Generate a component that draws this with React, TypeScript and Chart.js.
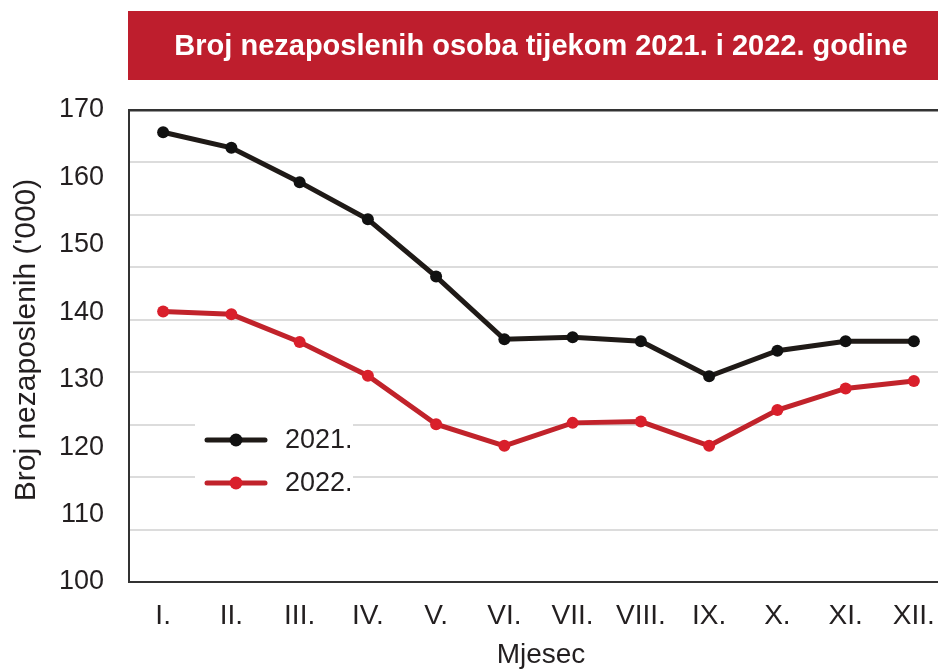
import React, { useEffect, useRef } from "react";
import { Chart, registerables } from "chart.js";

Chart.register(...registerables);

const months = ["I.", "II.", "III.", "IV.", "V.", "VI.", "VII.", "VIII.", "IX.", "X.", "XI.", "XII."];
const values2021 = [166.7, 164.4, 159.3, 153.8, 145.3, 136.0, 136.3, 135.7, 130.5, 134.3, 135.7, 135.7];
const values2022 = [140.1, 139.7, 135.6, 130.6, 123.4, 120.2, 123.6, 123.8, 120.2, 125.5, 128.7, 129.8];
const seriesLabels = ["2021.", "2022."];
const yMin = 100;
const yMax = 170;
const yStep = 10;
const gridDivisions = 9;
const chartTitle = "Broj nezaposlenih osoba tijekom 2021. i 2022. godine";
const yTitle = "Broj nezaposlenih ('000)";
const xTitle = "Mjesec";

const FONT = "'Liberation Sans', Arial, sans-serif";
const TEXT = "#231f20";
const FRAME = "#333333";
const BANNER = "#be1e2d";

const decorPlugin = {
  id: "decor",
  beforeDraw(chart: any) {
    const { ctx, width } = chart;
    ctx.save();
    ctx.fillStyle = "#ffffff";
    ctx.fillRect(0, 0, width, chart.height);
    // title banner
    ctx.fillStyle = BANNER;
    ctx.fillRect(128, 11, width - 128, 69);
    ctx.fillStyle = "#ffffff";
    ctx.font = `bold 29px ${FONT}`;
    ctx.textAlign = "center";
    ctx.textBaseline = "middle";
    ctx.fillText(chartTitle, 541, 47);
    ctx.restore();
  },
  afterDraw(chart: any) {
    const { ctx } = chart;
    ctx.save();
    ctx.fillStyle = TEXT;
    ctx.textAlign = "center";
    ctx.textBaseline = "middle";
    // y title
    ctx.save();
    ctx.font = `30px ${FONT}`;
    ctx.translate(27, 340);
    ctx.rotate(-Math.PI / 2);
    ctx.fillText(yTitle, 0, 0);
    ctx.restore();
    // x title
    ctx.font = `28px ${FONT}`;
    ctx.fillText(xTitle, 541, 655);
    // legend
    ctx.fillStyle = "#ffffff";
    ctx.fillRect(195, 405, 158, 92);
    chart.data.datasets.forEach((ds: any, i: number) => {
      const y = 440 + i * 43;
      ctx.strokeStyle = ds.borderColor;
      ctx.lineWidth = 5;
      ctx.lineCap = "round";
      ctx.beginPath();
      ctx.moveTo(207, y);
      ctx.lineTo(265, y);
      ctx.stroke();
      ctx.fillStyle = ds.pointBackgroundColor;
      ctx.beginPath();
      ctx.arc(236, y, 6.5, 0, Math.PI * 2);
      ctx.fill();
      ctx.fillStyle = TEXT;
      ctx.textAlign = "left";
      ctx.font = `27px ${FONT}`;
      ctx.fillText(ds.label, 285, y + 1);
    });
    ctx.restore();
  },
};

export default function App() {
  const ref = useRef<HTMLCanvasElement | null>(null);

  useEffect(() => {
    if (!ref.current) return;
    const chart = new Chart(ref.current, {
      type: "line",
      data: {
        labels: months,
        datasets: [
          {
            label: seriesLabels[0],
            data: values2021,
            borderColor: "#1f1a17",
            backgroundColor: "#111111",
            pointBackgroundColor: "#111111",
            pointBorderColor: "#111111",
            borderWidth: 5,
            pointRadius: 6,
            pointBorderWidth: 0,
            tension: 0,
            yAxisID: "y",
          },
          {
            label: seriesLabels[1],
            data: values2022,
            borderColor: "#c1232b",
            backgroundColor: "#d91f2b",
            pointBackgroundColor: "#d91f2b",
            pointBorderColor: "#d91f2b",
            borderWidth: 5,
            pointRadius: 6,
            pointBorderWidth: 0,
            tension: 0,
            yAxisID: "y",
          },
        ],
      },
      options: {
        responsive: false,
        animation: false,
        devicePixelRatio: 1,
        layout: { padding: { left: 0, top: 110, right: 12, bottom: 0 } },
        plugins: {
          legend: { display: false },
          title: { display: false },
          tooltip: { enabled: false },
        },
        scales: {
          x: {
            type: "category",
            offset: true,
            grid: { display: false, drawTicks: false },
            border: { display: true, color: FRAME, width: 2 },
            ticks: { color: TEXT, font: { family: FONT, size: 28 }, padding: 17, maxRotation: 0, autoSkip: false },
            afterFit(s: any) {
              s.height = 88;
            },
          },
          y: {
            type: "linear",
            position: "left",
            min: yMin,
            max: yMax,
            grid: { display: false, drawTicks: false },
            border: { display: true, color: FRAME, width: 2 },
            ticks: { stepSize: yStep, color: TEXT, font: { family: FONT, size: 27 }, padding: 25 },
            afterFit(s: any) {
              s.width = 129;
            },
          },
          g: {
            type: "linear",
            position: "right",
            min: 0,
            max: gridDivisions,
            ticks: { display: false, stepSize: 1 },
            grid: {
              drawTicks: false,
              color: (c: any) => (c.tick && (c.tick.value === gridDivisions || c.tick.value === 0) ? FRAME : "#dcdcdc"),
              lineWidth: (c: any) => (c.tick && c.tick.value === gridDivisions ? 2.5 : 2),
            },
            border: { display: false },
            afterFit(s: any) {
              s.width = 0;
            },
          },
        },
      },
      plugins: [decorPlugin],
    } as any);
    return () => chart.destroy();
  }, []);

  return (
    <div style={{ position: "absolute", left: 0, top: 0, width: 938, height: 670, overflow: "hidden", background: "#fff" }}>
      <canvas ref={ref} width={960} height={670} style={{ display: "block", width: 960, height: 670 }} />
    </div>
  );
}
